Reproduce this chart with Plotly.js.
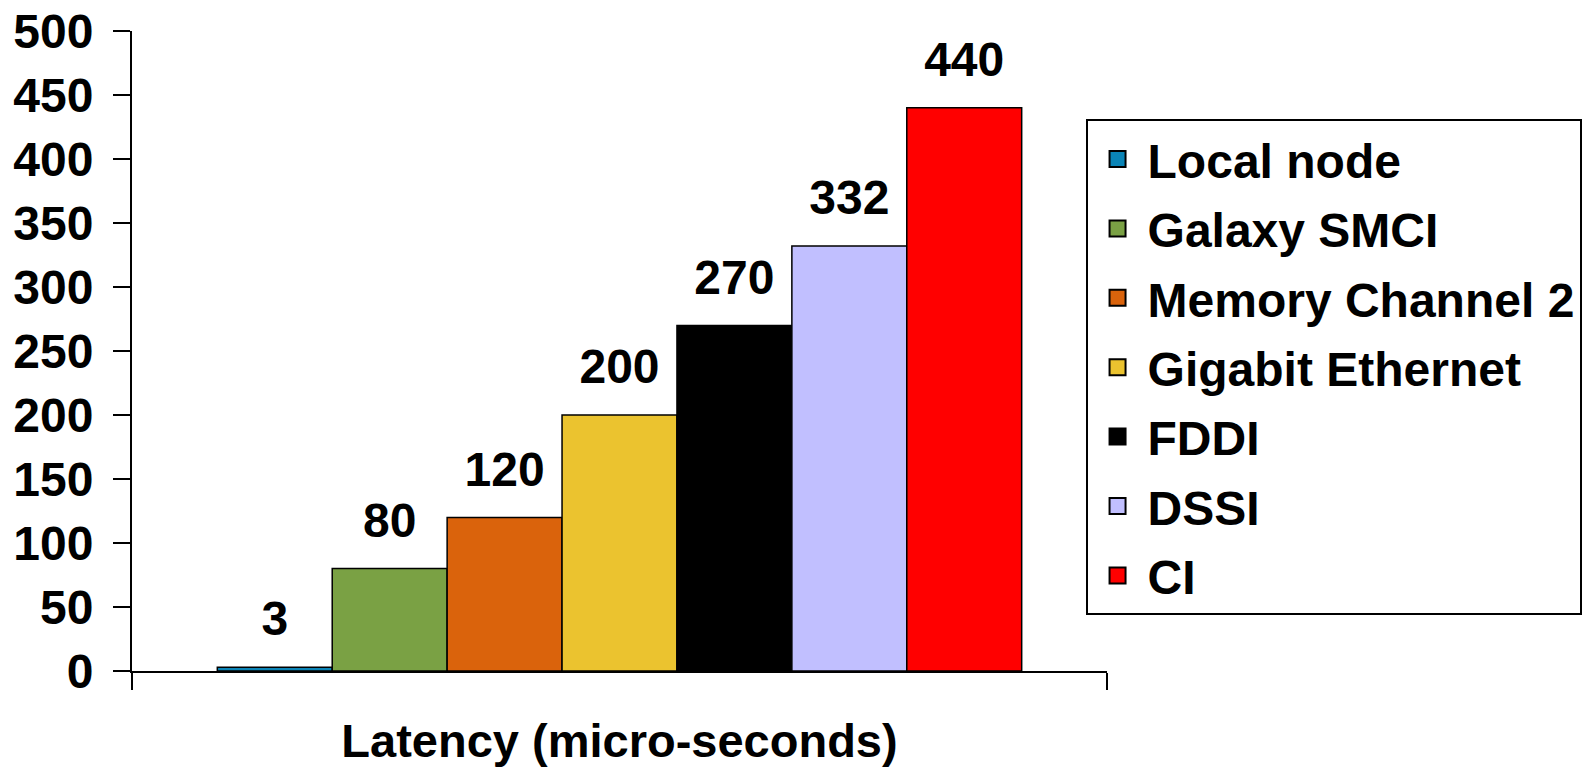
<!DOCTYPE html>
<html>
<head>
<meta charset="utf-8">
<script src="https://cdn.plot.ly/plotly-3.0.1.min.js"></script>
<style>html,body{margin:0;padding:0;background:#fff;}#chart{width:1583px;height:771px;}</style>
</head>
<body>
<div id="chart"></div>
<script>
const category = ["Latency"];
const seriesNames = ["Local node", "Galaxy SMCI", "Memory Channel 2", "Gigabit Ethernet", "FDDI", "DSSI", "CI"];
const seriesValues = [3, 80, 120, 200, 270, 332, 440];
const seriesColors = ["#0A84B6", "#7AA144", "#DA630C", "#EBC32F", "#000000", "#C1BFFF", "#FF0000"];
const yTicks = [0, 50, 100, 150, 200, 250, 300, 350, 400, 450, 500];

const FONT = "Liberation Sans, Arial, sans-serif";
const boldFont = (size) => ({family: FONT, size: size, color: "#000", weight: "bold"});

const bars = seriesNames.map((name, i) => ({
  type: "bar",
  name: name,
  x: category,
  y: [seriesValues[i]],
  offsetgroup: String(i),
  marker: {color: seriesColors[i], line: {color: "#000", width: 1.5}},
  showlegend: false,
  hoverinfo: "skip"
}));

const labels = seriesNames.map((name, i) => ({
  type: "scatter",
  mode: "markers+text",
  name: name + " label",
  x: category,
  y: [seriesValues[i]],
  offsetgroup: String(i),
  text: [String(seriesValues[i])],
  textposition: "top center",
  textfont: boldFont(48),
  marker: {size: 30, color: "rgba(0,0,0,0)"},
  cliponaxis: false,
  showlegend: false,
  hoverinfo: "skip"
}));

const legendEntries = seriesNames.map((name, i) => ({
  type: "scatter",
  mode: "markers",
  name: name,
  x: category,
  y: [null],
  offsetgroup: String(i),
  legendgroup: "g" + i,
  marker: {symbol: "square", size: 16, color: seriesColors[i], line: {color: "#000", width: 2}},
  showlegend: true,
  hoverinfo: "skip"
}));

const layout = {
  width: 1583,
  height: 771,
  paper_bgcolor: "#fff",
  plot_bgcolor: "#fff",
  margin: {l: 132, r: 476, t: 31, b: 100, autoexpand: false},
  barmode: "group",
  bargap: 0.175,
  bargroupgap: 0,
  scattermode: "group",
  scattergap: 0.175,
  font: boldFont(48),
  showlegend: true,
  legend: {
    x: 0.978, y: 0.862, xanchor: "left", yanchor: "top",
    bgcolor: "#fff", bordercolor: "#000", borderwidth: 2,
    font: boldFont(48),
    itemsizing: "trace",
    itemwidth: 50,
    tracegroupgap: 4
  },
  xaxis: {
    type: "category",
    range: [-0.5, 0.5],
    showline: true, linecolor: "#000", linewidth: 2,
    ticks: "outside", tickson: "boundaries", ticklen: 17, tickcolor: "#000", tickwidth: 2,
    showticklabels: false,
    showgrid: false, zeroline: false,
    title: {text: "Latency (micro-seconds)", font: boldFont(47), standoff: 52},
    automargin: false
  },
  yaxis: {
    range: [0, 500],
    tickvals: yTicks,
    ticktext: yTicks.map(String),
    showline: true, linecolor: "#000", linewidth: 2,
    ticks: "outside", ticklen: 17, tickcolor: "#000", tickwidth: 2,
    ticklabelstandoff: 10,
    tickfont: boldFont(48),
    showgrid: false, zeroline: false,
    automargin: false
  }
};

Plotly.newPlot("chart", bars.concat(labels, legendEntries), layout, {staticPlot: true, displayModeBar: false});
</script>
</body>
</html>
